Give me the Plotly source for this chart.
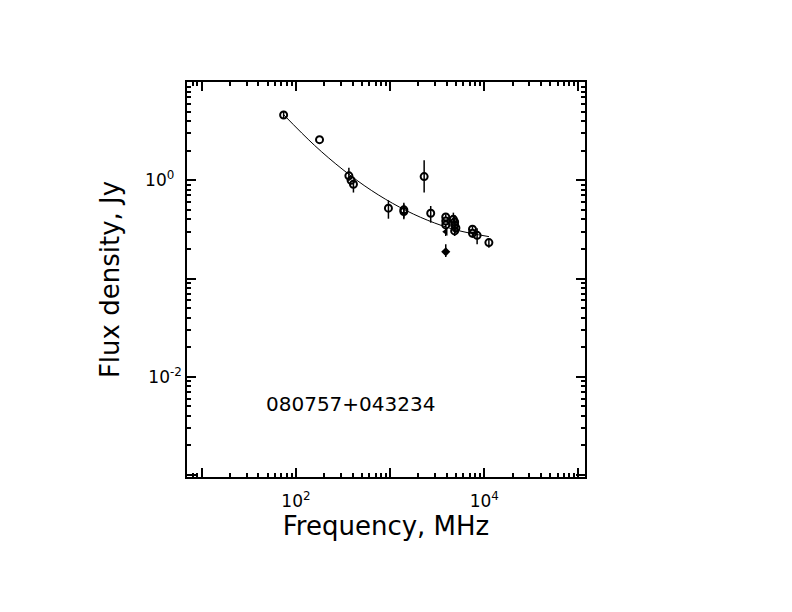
import plotly.graph_objects as go

# spectrum points, MHz / Jy
freq = [74, 178, 365, 385, 408, 960, 1400, 1400, 2300, 2700,
        3900, 3900, 3900, 4700, 4850, 4850, 5000, 4850, 7500, 7500, 8400, 11200]
flux = [4.62, 2.59, 1.11, 1.00, 0.91, 0.52, 0.50, 0.48, 1.09, 0.461,
        0.423, 0.385, 0.351, 0.40, 0.376, 0.35, 0.327, 0.305, 0.317, 0.289, 0.275, 0.232]
flux_hi = [5.08, 2.59, 1.34, 1.00, 1.02, 0.625, 0.59, 0.57, 1.60, 0.547,
           0.45, 0.385, 0.351, 0.468, 0.44, 0.35, 0.38, 0.34, 0.34, 0.289, 0.325, 0.254]
flux_lo = [4.28, 2.59, 0.98, 1.00, 0.75, 0.406, 0.416, 0.40, 0.75, 0.37,
           0.423, 0.385, 0.33, 0.36, 0.33, 0.35, 0.29, 0.271, 0.317, 0.26, 0.223, 0.206]

# odd points
tri_freq = [3900]
tri_flux = [0.30]
tri_hi = [0.329]
tri_lo = [0.271]
dia_freq = [3900]
dia_flux = [0.187]
dia_hi = [0.223]
dia_lo = [0.166]

# fitted curve
fit_freq = [74, 158, 316, 631, 1259, 2512, 5012, 11220]
fit_flux = [4.65, 2.26, 1.28, 0.79, 0.533, 0.391, 0.312, 0.267]

source = "080757+043234"

def errs(v, hi, lo):
    return dict(type="data", symmetric=False,
                array=[h - x for h, x in zip(hi, v)],
                arrayminus=[x - l for l, x in zip(lo, v)],
                color="black", thickness=1.5, width=0)

fig = go.Figure()
fig.add_trace(go.Scatter(x=fit_freq, y=fit_flux, mode="lines", line_shape="spline",
                         line=dict(color="black", width=1)))
fig.add_trace(go.Scatter(x=freq, y=flux, mode="markers",
                         marker=dict(symbol="circle-open", size=7, color="black", line=dict(width=2)),
                         error_y=errs(flux, flux_hi, flux_lo)))
fig.add_trace(go.Scatter(x=tri_freq, y=tri_flux, mode="markers",
                         marker=dict(symbol="triangle-left", size=7, color="black"),
                         error_y=errs(tri_flux, tri_hi, tri_lo)))
fig.add_trace(go.Scatter(x=dia_freq, y=dia_flux, mode="markers",
                         marker=dict(symbol="diamond", size=7, color="black"),
                         error_y=errs(dia_flux, dia_hi, dia_lo)))

font = "DejaVu Sans"
minor_x = [m * 10 ** d for d in range(0, 6) for m in range(2, 10)]
minor_y = [m * 10.0 ** d for d in range(-4, 2) for m in range(2, 10)]

fig.update_xaxes(type="log", range=[0.843, 5.07], automargin=False,
                 tickmode="array", tickvals=[10, 100, 1000, 1e4, 1e5],
                 ticktext=["", "10<sup>2</sup>", "", "10<sup>4</sup>", ""],
                 ticks="inside", ticklen=9, tickwidth=1.5, tickcolor="black",
                 minor=dict(tickmode="array", tickvals=minor_x, ticks="inside",
                            ticklen=4, tickwidth=1.5, tickcolor="black", showgrid=False),
                 showline=True, linecolor="black", linewidth=1.5, mirror="ticks",
                 showgrid=False, zeroline=False, ticklabelstandoff=8,
                 tickfont=dict(family=font, size=17, color="black"),
                 title=dict(text="Frequency, MHz", standoff=3,
                            font=dict(family=font, size=26, color="black")))
fig.update_yaxes(type="log", range=[-3.02, 1.0], automargin=False,
                 tickmode="array", tickvals=[1e-3, 1e-2, 1e-1, 1, 10],
                 ticktext=["", "10<sup>-2</sup>", "", "10<sup>0\u00a0\u00a0</sup>", ""],
                 ticks="inside", ticklen=9, tickwidth=1.5, tickcolor="black",
                 minor=dict(tickmode="array", tickvals=minor_y, ticks="inside",
                            ticklen=4, tickwidth=1.5, tickcolor="black", showgrid=False),
                 showline=True, linecolor="black", linewidth=1.5, mirror="ticks",
                 showgrid=False, zeroline=False, ticklabelstandoff=0,
                 tickfont=dict(family=font, size=17, color="black"),
                 title=dict(text="Flux density, Jy", standoff=18,
                            font=dict(family=font, size=26, color="black")))

fig.add_annotation(x=2.58, y=-2.28, xref="x", yref="y", text=source, showarrow=False,
                   font=dict(family=font, size=20, color="black"))

# page body adds ~7px offset, so margins are shifted to compensate
fig.update_layout(width=792, height=612, autosize=False, showlegend=False,
                  margin=dict(l=179, r=215, t=74, b=143),
                  plot_bgcolor="white", paper_bgcolor="white")

fig.write_html("out.html")
